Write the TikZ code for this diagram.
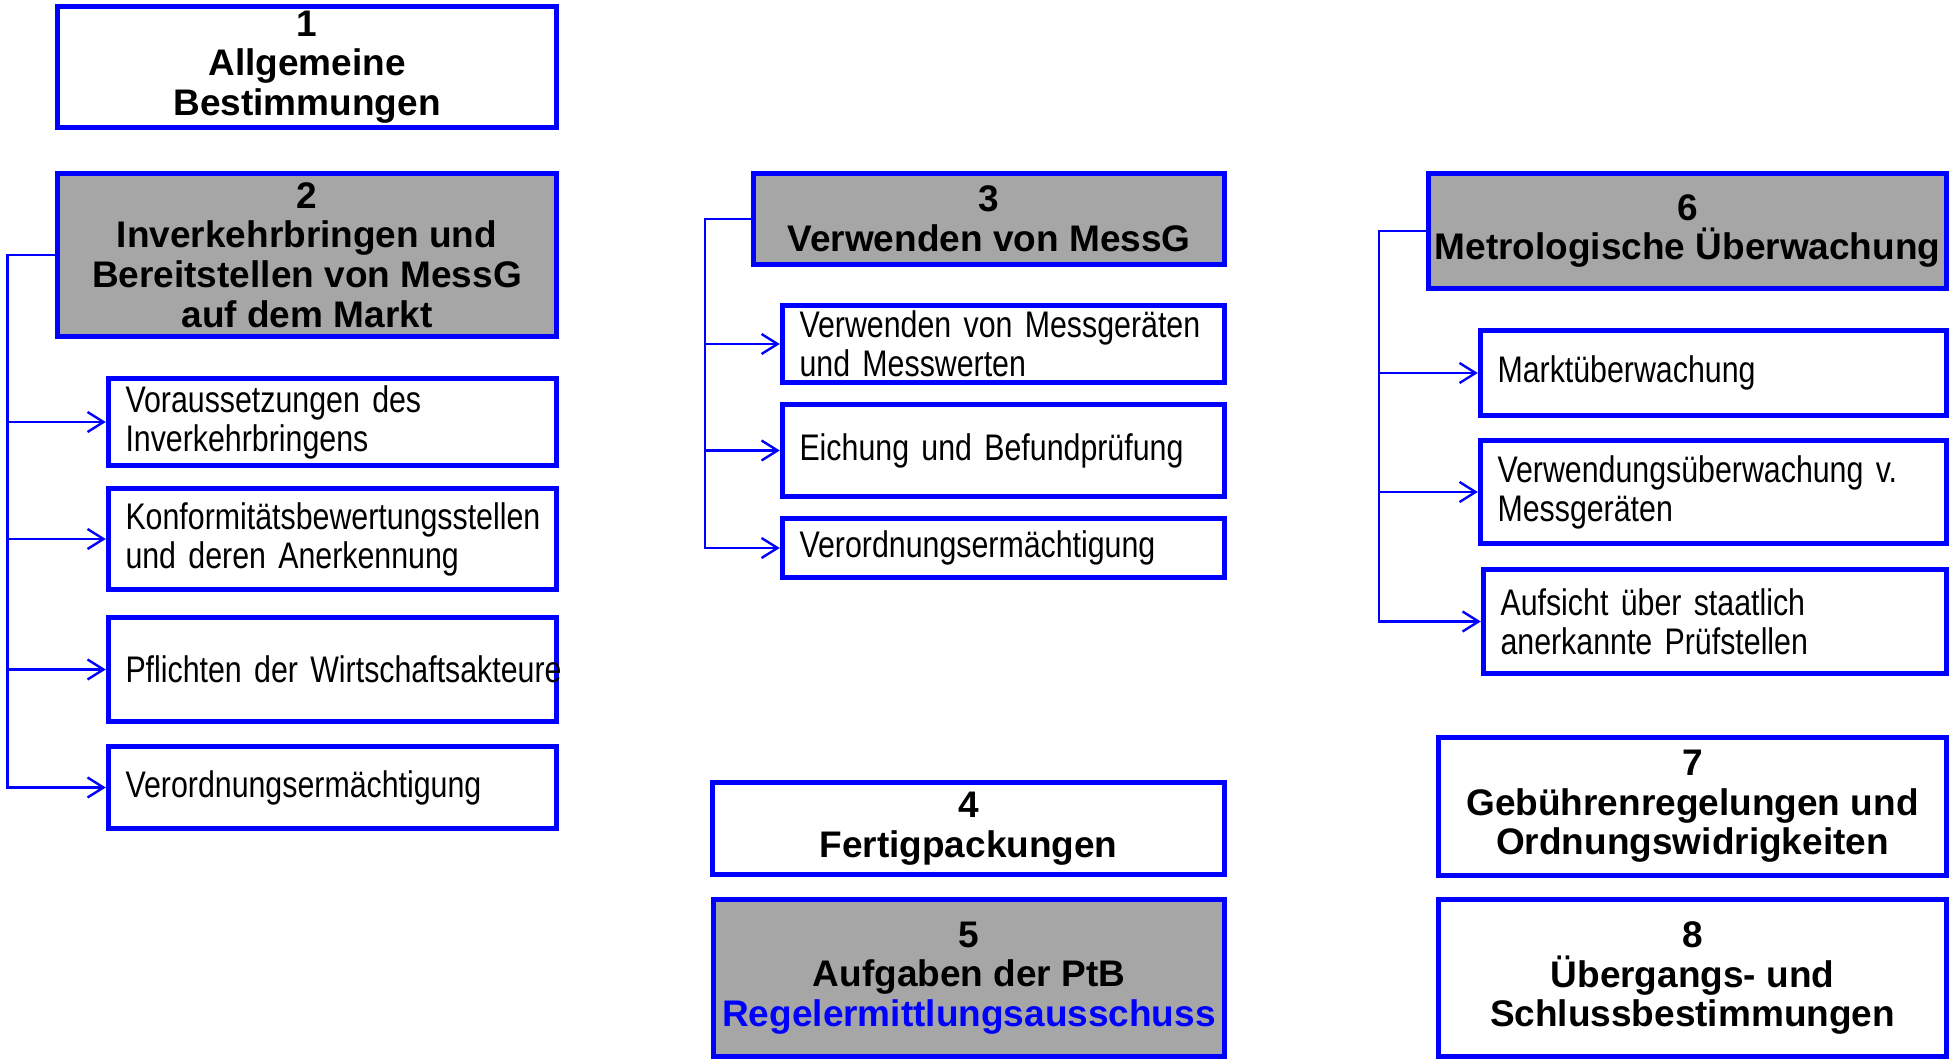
\documentclass[tikz,border=0pt]{standalone}
\usepackage{fontspec}
\setmainfont{Liberation Sans}
\newfontfamily\narrowfont[FakeStretch=0.82]{Liberation Sans}
\definecolor{LawBlue}{RGB}{0, 0, 255}
\definecolor{HeadGray}{RGB}{166, 166, 166}
\usetikzlibrary{arrows.meta, positioning}

\begin{document}
\begin{tikzpicture}[
        x=0.5pt, y=-0.5pt,
        head/.style={rectangle, draw=LawBlue, line width=2.7pt, align=center, inner sep=0pt, font={\bfseries\fontsize{18.5}{19.8}\selectfont}},
        grayhead/.style={head, fill=HeadGray},
        item/.style={rectangle, draw=LawBlue, line width=2.7pt, align=left, inner xsep=8.5pt, inner ysep=0pt, font={\narrowfont\fontsize{18.5}{19.5}\selectfont\spaceskip=0.23em plus 0.1em\relax}},
        arrow/.style={-{Straight Barb[length=8pt, width=10pt]}, line width=1.2pt, LawBlue}
    ]
        \useasboundingbox (0,0) rectangle (1953,1060);

        % Abschnitt 1 und 2
        \node[head, minimum width=249.5pt, minimum height=60.5pt] (sec1) at (307, 67) {1\\Allgemeine\\Bestimmungen};
        \node[grayhead, minimum width=249.5pt, minimum height=81.5pt] (sec2) at (307, 255) {2\\Inverkehrbringen und\\Bereitstellen von MessG\\auf dem Markt};
        \node[item, text width=207pt, minimum height=43.5pt] (s2a) at (332.5, 422) {Voraussetzungen des\\Inverkehrbringens};
        \node[item, text width=207pt, minimum height=50.5pt] (s2b) at (332.5, 539) {Konformitätsbewertungsstellen\\und deren Anerkennung};
        \node[item, text width=207pt, minimum height=52pt] (s2c) at (332.5, 669.5) {\mbox{Pflichten der Wirtschaftsakteure}};
        \node[item, text width=207pt, minimum height=41pt] (s2d) at (332.5, 787.5) {Verordnungsermächtigung};
        \coordinate (bus2) at (7.5, 255);
        \foreach \s in {s2a, s2b, s2c, s2d}
            \draw[arrow] (sec2.west) -- (bus2) |- (\s.west);

        % Abschnitt 3, 4 und 5
        \node[grayhead, minimum width=235.5pt, minimum height=45.5pt] (sec3) at (989, 219) {3\\Verwenden von MessG};
        \node[item, text width=204pt, minimum height=38.5pt] (s3a) at (1003.5, 344) {Verwenden von Messgeräten\\und Messwerten};
        \node[item, text width=204pt, minimum height=46pt] (s3b) at (1003.5, 450.5) {Eichung und Befundprüfung};
        \node[item, text width=204pt, minimum height=29.5pt] (s3c) at (1003.5, 548) {Verordnungsermächtigung};
        \coordinate (bus3) at (705, 219);
        \foreach \s in {s3a, s3b, s3c}
            \draw[arrow] (sec3.west) -- (bus3) |- (\s.west);

        \node[head, minimum width=256pt, minimum height=46pt] (sec4) at (968.5, 828.5) {4\\Fertigpackungen};
        \node[grayhead, minimum width=255.5pt, minimum height=78.5pt] (sec5) at (969, 978) {5\\Aufgaben der PtB\\\textcolor{LawBlue}{Regelermittlungsausschuss}};

        % Abschnitt 6, 7 und 8
        \node[grayhead, minimum width=259pt, minimum height=57.5pt] (sec6) at (1687.5, 231) {6\\Metrologische Überwachung};
        \node[item, text width=216pt, minimum height=42.5pt] (s6a) at (1713.5, 373) {Marktüberwachung};
        \node[item, text width=216pt, minimum height=51.5pt] (s6b) at (1713.5, 492) {Verwendungsüberwachung v.\\Messgeräten};
        \node[item, text width=214.5pt, minimum height=52pt] (s6c) at (1715, 621.5) {Aufsicht über staatlich\\anerkannte Prüfstellen};
        \coordinate (bus6) at (1379, 231);
        \foreach \s in {s6a, s6b, s6c}
            \draw[arrow] (sec6.west) -- (bus6) |- (\s.west);

        \node[head, minimum width=254pt, minimum height=69pt] (sec7) at (1692.5, 806.5) {7\\Gebührenregelungen und\\Ordnungswidrigkeiten};
        \node[head, minimum width=254pt, minimum height=78.5pt] (sec8) at (1692.5, 978) {8\\Übergangs- und\\Schlussbestimmungen};
    \end{tikzpicture}
\end{document}
